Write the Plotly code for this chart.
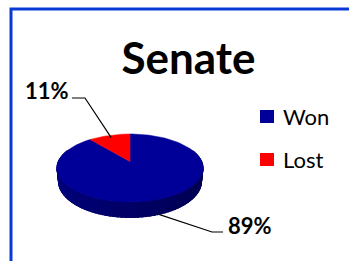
import numpy as np
import plotly.graph_objects as go

# ---- data ----
categories = ["Won", "Lost"]
values = [89, 11]
slice_colors = ["#000099", "#FF0000"]
title_text = "Senate"

# ---- layout / geometry constants ----
W, H = 349, 261
CX, CY = 130.0, 161.5          # pie centre (pixels)
ELEV = np.radians(27.2)        # camera elevation
DIST = 4.651                   # camera distance (in pie radii)
FOCAL = 333.3                  # projection scale
THICK = 0.215                  # pie thickness (in radii)
FONT = "Lato"


def project(x, z, h=0.0):
    s, c = np.sin(ELEV), np.cos(ELEV)
    depth = DIST - h * s - z * c
    X = CX + FOCAL * x / depth
    Y = CY - FOCAL * (h * c - z * s) / depth
    return X, Y


def rim(phi, r=1.0, h=0.0):
    # phi measured clockwise from 12 o'clock (far side)
    return project(r * np.sin(phi), -r * np.cos(phi), h)


def hex_to_rgb(hx):
    hx = hx.lstrip("#")
    return [int(hx[i:i + 2], 16) for i in (0, 2, 4)]


total = float(sum(values))
bounds = np.concatenate([[0.0], np.cumsum(values) / total * 2 * np.pi])

fig = go.Figure()

# ---- side wall (drawn as shaded strips, back to front) ----
phis = np.linspace(np.radians(70), np.radians(290), 81)
step = phis[1] - phis[0]
strips = []
for a, b in zip(phis[:-1], phis[1:]):
    mid = 0.5 * (a + b)
    idx = int(np.searchsorted(bounds, mid, side="right") - 1)
    idx = min(max(idx, 0), len(values) - 1)
    strips.append((-np.cos(mid), a - 0.3 * step, b + 0.3 * step, mid, idx))
strips.sort(key=lambda t: t[0])
for _, a, b, mid, idx in strips:
    f = 0.665 - 0.145 * np.sin(mid)
    r, g, bl = [int(round(v * f)) for v in hex_to_rgb(slice_colors[idx])]
    col = f"rgb({r},{g},{bl})"
    seg = np.linspace(a, b, 4)
    xt, yt = rim(seg)
    xb, yb = rim(seg[::-1], h=-THICK)
    xs = np.concatenate([xt, xb, xt[:1]])
    ys = np.concatenate([yt, yb, yt[:1]])
    fig.add_trace(go.Scatter(x=xs, y=ys, mode="lines", fill="toself", fillcolor=col,
                             line=dict(color=col, width=1),
                             hoverinfo="skip", showlegend=False))

# ---- top faces of the slices ----
for i, (name, col) in enumerate(zip(categories, slice_colors)):
    arc = np.linspace(bounds[i], bounds[i + 1], 120)
    xs, ys = rim(arc)
    cx0, cy0 = project(0.0, 0.0)
    fig.add_trace(go.Scatter(x=np.concatenate([[cx0], xs, [cx0]]),
                             y=np.concatenate([[cy0], ys, [cy0]]),
                             mode="lines", fill="toself", fillcolor=col,
                             line=dict(color=col, width=0.5),
                             name=name, hoverinfo="skip", showlegend=False))

# ---- data labels with leader lines ----
label_pos = {"Won": (249.5, 225.0), "Lost": (46.5, 90.5)}
elbow = {"Won": (212.0, 232.0, 223.0), "Lost": (85.0, 98.0, 72.0)}
anchor_spec = {"Won": (1.0, -THICK), "Lost": (0.9, 0.0)}
annotations = []
for i, name in enumerate(categories):
    mid = 0.5 * (bounds[i] + bounds[i + 1])
    rr, hh = anchor_spec[name]
    ax_, ay_ = rim(mid, r=rr, h=hh)
    ex, ey, tx = elbow[name]
    fig.add_trace(go.Scatter(x=[ax_, ex, tx], y=[ay_, ey, ey], mode="lines",
                             line=dict(color="black", width=1.2),
                             hoverinfo="skip", showlegend=False))
    pct = f"{round(values[i] / total * 100)}%"
    lx, ly = label_pos[name]
    annotations.append(dict(x=lx, y=ly, xref="x", yref="y", text=f"<b>{pct}</b>",
                            showarrow=False, xanchor="center", yanchor="middle",
                            font=dict(family=FONT, size=22, color="black")))

# ---- legend (manual) ----
legend_y = [116.5, 159.5]
shapes = []
for name, col, ly in zip(categories, slice_colors, legend_y):
    shapes.append(dict(type="rect", xref="x", yref="y", x0=260, x1=274,
                       y0=ly - 6.5, y1=ly + 6.5, fillcolor=col, line=dict(width=0)))
    annotations.append(dict(x=281, y=ly, xref="x", yref="y", text=name,
                            showarrow=False, xanchor="left", yanchor="middle",
                            font=dict(family=FONT, size=22, color="black")))

# ---- chart border ----
shapes.append(dict(type="rect", xref="x", yref="y", x0=11, y0=9, x1=420, y1=420,
                   line=dict(color="#0A3AD6", width=3), fillcolor="rgba(0,0,0,0)"))

fig.update_layout(
    width=W, height=H, margin=dict(l=0, r=0, t=0, b=0),
    paper_bgcolor="white", plot_bgcolor="white",
    xaxis=dict(range=[0, W], visible=False, fixedrange=True),
    yaxis=dict(range=[H, 0], visible=False, fixedrange=True),
    title=dict(text=f"<b>{title_text}</b>", x=188.5 / W, xanchor="center",
               y=1 - 59 / H, yanchor="middle",
               font=dict(family=FONT, size=44, color="black")),
    annotations=annotations, shapes=shapes, showlegend=False, hovermode=False,
)

fig.write_html("out.html", config={"displayModeBar": False, "staticPlot": True},
               post_script="document.body.style.margin='0';document.body.style.overflow='hidden';")
